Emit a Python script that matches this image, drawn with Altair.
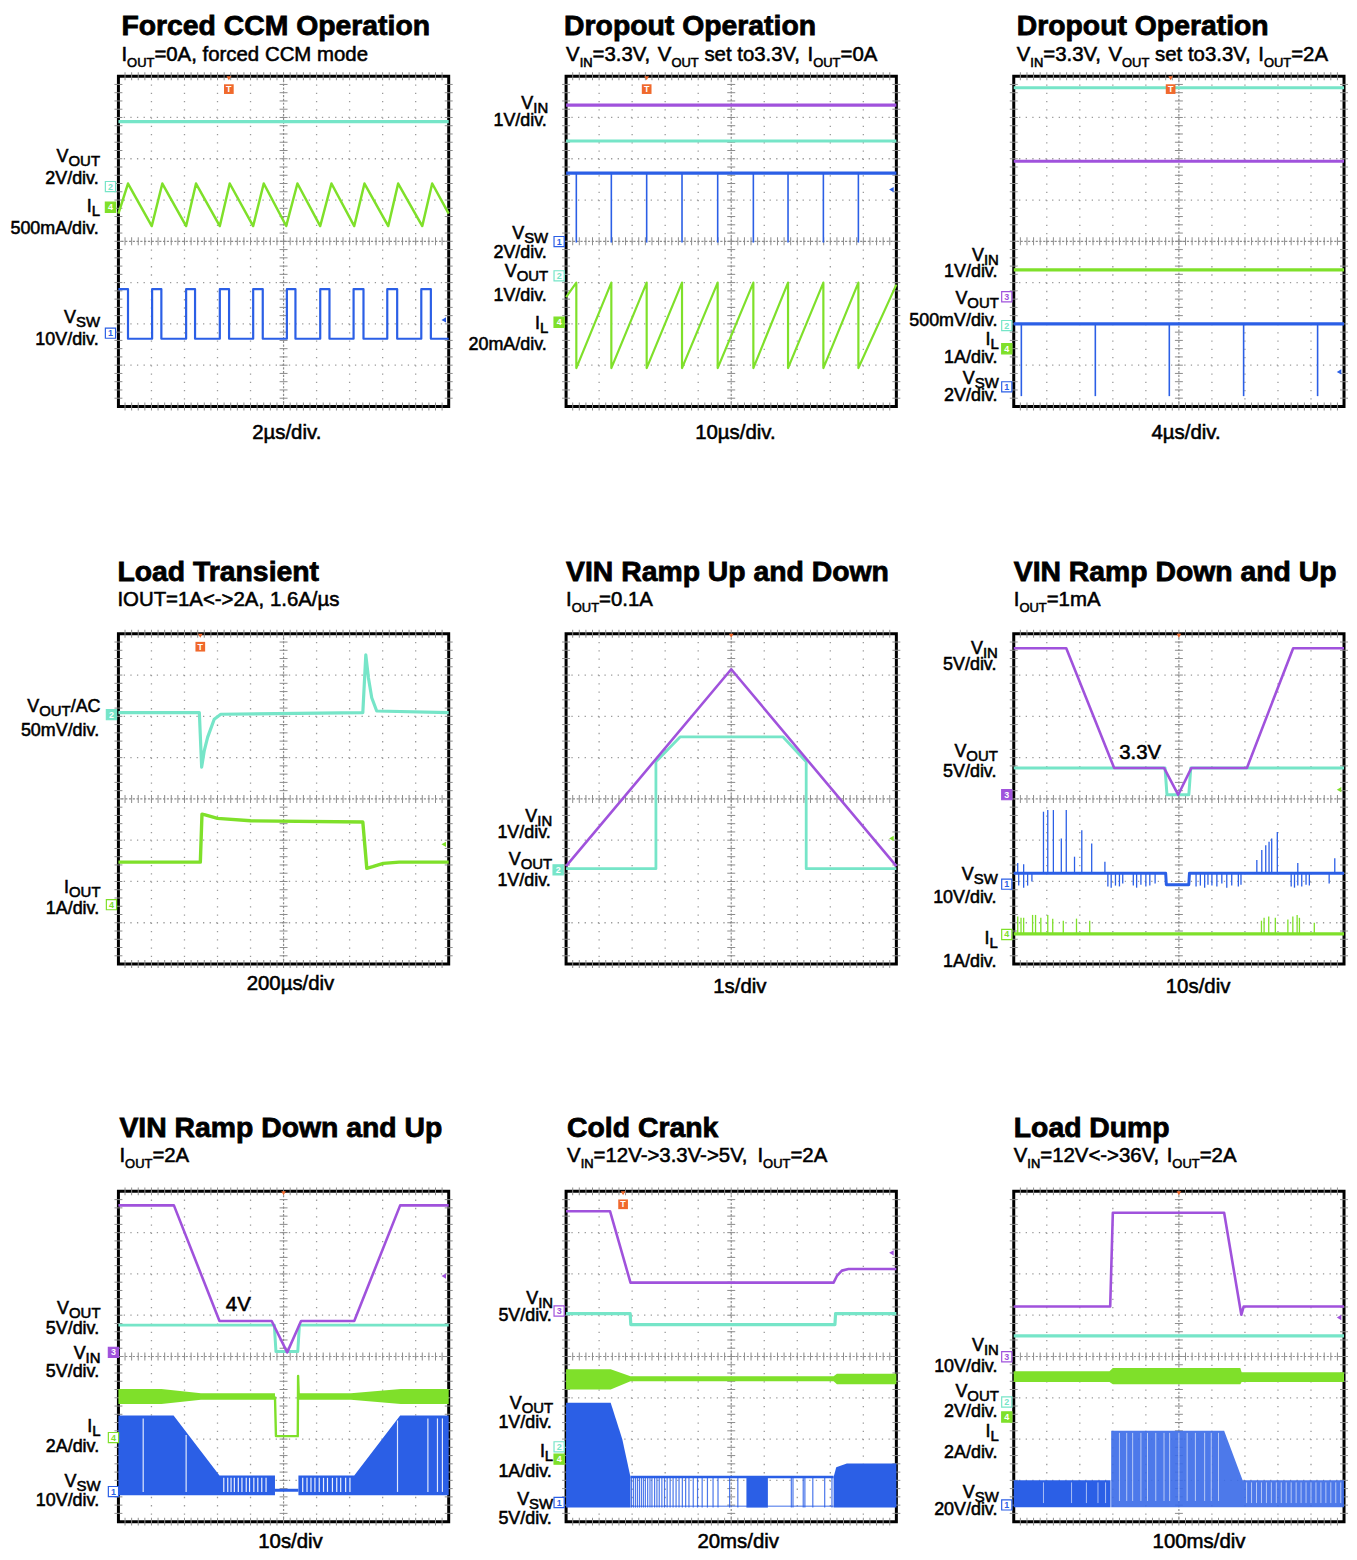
import re
import altair as alt
import pandas as pd

# ---------------------------------------------------------------------------
# Data, in oscilloscope divisions (x: 0..10, y: 0..8)
# ---------------------------------------------------------------------------
# 1 Forced CCM Operation
P1_VOUT_X = [0, 10]
P1_VOUT_Y = [6.9, 6.9]
P1_IL_X = [0, 0.29, 1.01, 1.33, 2.05, 2.35, 3.07, 3.37, 4.08, 4.40, 5.08, 5.42,
           6.11, 6.45, 7.14, 7.45, 8.17, 8.47, 9.20, 9.50, 10]
P1_IL_Y = [4.67, 5.40, 4.37, 5.40, 4.37, 5.40, 4.37, 5.40, 4.37, 5.40, 4.37, 5.40,
           4.37, 5.40, 4.37, 5.40, 4.37, 5.40, 4.37, 5.40, 4.67]
P1_VSW_X = [0, 0.29, 0.29, 1.02, 1.02, 1.30, 1.30, 2.05, 2.05, 2.32, 2.32, 3.07,
            3.07, 3.35, 3.35, 4.08, 4.08, 4.37, 4.37, 5.10, 5.10, 5.36, 5.36, 6.11,
            6.11, 6.39, 6.39, 7.12, 7.12, 7.42, 7.42, 8.14, 8.14, 8.44, 8.44, 9.17,
            9.17, 9.46, 9.46, 10]
P1_VSW_Y = [2.84, 2.84, 1.64, 1.64, 2.84, 2.84, 1.64, 1.64, 2.84, 2.84, 1.64, 1.64,
            2.84, 2.84, 1.64, 1.64, 2.84, 2.84, 1.64, 1.64, 2.84, 2.84, 1.64, 1.64,
            2.84, 2.84, 1.64, 1.64, 2.84, 2.84, 1.64, 1.64, 2.84, 2.84, 1.64, 1.64,
            2.84, 2.84, 1.64, 1.64]

# 2 Dropout Operation, IOUT=0A
P2_VIN_Y = 7.30
P2_VOUT_Y = 6.43
P2_VSW_Y = 5.65
P2_VSW_SPIKE_X = [0.31, 1.37, 2.44, 3.51, 4.59, 5.67, 6.72, 7.79, 8.85]
P2_VSW_SPIKE_LOW = 3.97
P2_IL_X = [0, 0.31, 0.31, 1.37, 1.37, 2.44, 2.44, 3.51, 3.51, 4.59, 4.59, 5.67,
           5.67, 6.72, 6.72, 7.79, 7.79, 8.85, 8.85, 10]
P2_IL_Y = [2.65, 3.0, 0.93, 3.0, 0.93, 3.0, 0.93, 3.0, 0.93, 3.0, 0.93, 3.0,
           0.93, 3.0, 0.93, 3.0, 0.93, 3.0, 0.93, 2.95]

# 3 Dropout Operation, IOUT=2A
P3_VOUT_Y = 7.72
P3_VIN_Y = 5.94
P3_IL_Y = 3.31
P3_VSW_Y = 2.0
P3_VSW_SPIKE_X = [0.23, 2.47, 4.71, 6.96, 9.20]
P3_VSW_SPIKE_LOW = 0.25

# 4 Load Transient
P4_VOUT_X = [0, 2.45, 2.52, 2.60, 2.70, 2.90, 3.10, 7.40, 7.49, 7.57, 7.67, 7.82, 10]
P4_VOUT_Y = [6.09, 6.09, 4.77, 5.17, 5.49, 5.93, 6.05, 6.09, 7.49, 6.93, 6.45, 6.13, 6.09]
P4_IOUT_X = [0, 2.48, 2.53, 2.60, 3.0, 4.0, 7.40, 7.52, 7.70, 8.02, 8.50, 10]
P4_IOUT_Y = [2.47, 2.47, 3.63, 3.62, 3.53, 3.47, 3.44, 2.32, 2.36, 2.44, 2.47, 2.47]

# 5 VIN Ramp Up and Down
P5_VIN_X = [0, 5.0, 10]
P5_VIN_Y = [2.37, 7.14, 2.37]
P5_VOUT_X = [0, 2.72, 2.72, 3.45, 6.57, 7.27, 7.27, 10]
P5_VOUT_Y = [2.31, 2.31, 4.90, 5.50, 5.50, 4.90, 2.31, 2.31]

# 6 VIN Ramp Down and Up, IOUT=1mA
P6_VIN_X = [0, 1.59, 3.04, 4.55, 4.98, 5.38, 7.06, 8.46, 10]
P6_VIN_Y = [7.65, 7.65, 4.75, 4.75, 4.10, 4.75, 4.75, 7.65, 7.65]
P6_VOUT_X = [0, 4.58, 4.64, 5.30, 5.36, 10]
P6_VOUT_Y = [4.75, 4.75, 4.10, 4.10, 4.75, 4.75]
P6_VSW_X = [0, 4.60, 4.62, 5.30, 5.32, 10]
P6_VSW_Y = [2.20, 2.20, 1.92, 1.92, 2.20, 2.20]
P6_SWUP_X = [0.12, 0.30, 0.90, 1.03, 1.20, 1.44, 1.59, 1.84, 2.06, 2.36, 2.76,
             7.36, 7.51, 7.63, 7.73, 7.81, 7.98, 8.60, 9.72]
P6_SWUP_Y = [2.45, 2.42, 3.69, 3.73, 3.73, 3.04, 3.73, 2.60, 3.24, 2.92, 2.48,
             2.52, 2.76, 2.88, 2.96, 3.04, 3.20, 2.45, 2.56]
P6_SWDN_X = [0.15, 0.30, 0.42, 0.55, 2.85, 2.95, 3.08, 3.20, 3.30, 3.62, 3.72,
             3.85, 4.00, 4.12, 4.28, 5.52, 5.65, 5.78, 5.88, 6.00, 6.15, 6.30,
             6.45, 6.60, 6.80, 6.88, 8.40, 8.50, 8.60, 8.72, 8.85, 8.95, 9.55]
P6_SWDN_Y = [1.90, 1.85, 1.90, 2.00, 1.88, 1.85, 1.90, 1.88, 1.95, 1.90, 1.85,
             1.92, 1.88, 1.90, 1.95, 1.88, 1.90, 1.85, 1.92, 1.90, 1.88, 1.95,
             1.85, 1.90, 1.88, 1.92, 1.88, 1.85, 1.90, 1.88, 1.92, 1.90, 1.95]
P6_IL_Y = 0.73
P6_IL_SPIKE_X = [0.12, 0.22, 0.30, 0.57, 0.66, 0.82, 1.03, 1.18, 1.50, 1.90, 2.30,
                 7.50, 7.58, 7.72, 7.92, 8.30, 8.45, 8.58, 8.65, 9.10]
P6_IL_SPIKE_Y = [1.15, 1.12, 1.12, 1.19, 1.19, 1.12, 1.19, 1.10, 1.05, 1.10, 1.05,
                 1.05, 1.12, 1.15, 1.12, 1.08, 1.15, 1.19, 1.12, 1.00]

# 7 VIN Ramp Down and Up, IOUT=2A
P7_VIN_X = [0, 1.68, 3.06, 4.64, 5.11, 5.53, 7.14, 8.53, 10]
P7_VIN_Y = [7.66, 7.66, 4.86, 4.86, 4.10, 4.86, 4.86, 7.66, 7.66]
P7_VOUT_X = [0, 4.72, 4.77, 5.43, 5.48, 10]
P7_VOUT_Y = [4.76, 4.76, 4.12, 4.12, 4.76, 4.76]
P7_IL_BAND1_X = [0, 1.30, 2.50, 4.74]
P7_IL_BAND1_LO = [2.85, 2.85, 2.95, 2.95]
P7_IL_BAND1_HI = [3.21, 3.21, 3.11, 3.11]
P7_IL_DIP_X = [4.74, 4.77, 5.43, 5.44, 5.46]
P7_IL_DIP_Y = [3.03, 2.07, 2.07, 3.53, 3.03]
P7_IL_BAND2_X = [5.46, 7.04, 8.55, 10]
P7_IL_BAND2_LO = [2.95, 2.95, 2.85, 2.85]
P7_IL_BAND2_HI = [3.11, 3.11, 3.21, 3.21]
P7_VSW_A_X = [0, 1.67, 3.06, 4.74]
P7_VSW_A_HI = [2.57, 2.57, 1.12, 1.12]
P7_VSW_B_X = [5.45, 7.14, 8.53, 10]
P7_VSW_B_HI = [1.12, 1.12, 2.57, 2.57]
P7_VSW_LO = 0.64
P7_VSW_MID_X = [4.74, 5.45]
P7_VSW_MID_Y = [0.76, 0.76]
P7_GAP_FULL_X = [0.75, 2.05, 8.45, 9.37, 9.66, 9.81]
P7_GAP_FULL_TOP = [2.50, 2.10, 2.45, 2.50, 2.50, 2.50]
P7_GAP_SPARSE_X = [3.19, 3.31, 3.41, 3.51, 3.63, 3.74, 3.87, 3.97, 4.10, 4.22, 4.34, 4.47,
                   5.58, 5.71, 5.83, 5.95, 6.08, 6.21, 6.33, 6.48, 6.61, 6.73, 6.88, 7.01]

# 8 Cold Crank
P8_VIN_X = [0, 1.33, 1.95, 8.10, 8.20, 8.35, 8.55, 10]
P8_VIN_Y = [7.52, 7.52, 5.79, 5.79, 5.95, 6.08, 6.12, 6.12]
P8_VOUT_X = [0, 1.94, 1.96, 8.14, 8.16, 10]
P8_VOUT_Y = [5.04, 5.04, 4.77, 4.77, 5.04, 5.04]
P8_IL_X = [0, 1.35, 1.95, 8.10, 8.20, 10]
P8_IL_LO = [3.20, 3.20, 3.40, 3.40, 3.33, 3.33]
P8_IL_HI = [3.69, 3.69, 3.52, 3.52, 3.58, 3.58]
P8_VSW_A_X = [0, 1.35, 1.70, 1.95]
P8_VSW_A_HI = [2.88, 2.88, 2.00, 1.08]
P8_VSW_B_X = [8.10, 8.18, 8.50, 10]
P8_VSW_B_HI = [1.08, 1.32, 1.41, 1.41]
P8_VSW_LO = 0.34
P8_VSW_TOP = 1.08
P8_VSW_BLOCK_X = [5.46, 6.11]
P8_VSW_LINES_X = [1.98, 2.04, 2.10, 2.16, 2.22, 2.28, 2.34, 2.40, 2.47, 2.54, 2.60, 2.68,
                  2.75, 2.82, 2.90, 2.98, 3.06, 3.15, 3.24, 3.33, 3.42, 3.52, 3.62, 3.72,
                  3.85, 3.98, 4.12, 4.28, 4.45, 4.60, 4.95, 5.20, 6.82, 6.87, 7.18, 7.23,
                  7.47, 7.83, 8.05]

# 9 Load Dump
P9_VIN_X = [0, 2.92, 3.00, 6.37, 6.89, 6.96, 10]
P9_VIN_Y = [5.21, 5.21, 7.48, 7.48, 5.01, 5.21, 5.21]
P9_VOUT_Y = 4.50
P9_IL_X = [0, 2.90, 3.00, 6.86, 6.90, 10]
P9_IL_LO = [3.38, 3.38, 3.33, 3.33, 3.38, 3.38]
P9_IL_HI = [3.64, 3.64, 3.72, 3.72, 3.62, 3.62]
P9_VSW_A_X = [0, 2.93]
P9_VSW_A_HI = [1.0, 1.0]
P9_VSW_B_X = [2.95, 6.37, 6.93, 10]
P9_VSW_B_HI = [2.20, 2.20, 1.00, 1.00]
P9_VSW_LO = 0.35
P9_GAP_L_X = [0.90, 1.75, 2.20, 2.55, 2.78]
P9_GAP_M_X = [3.20, 3.42, 3.60, 3.85, 4.05, 4.30, 4.55, 4.72, 5.00, 5.25, 5.50, 5.78, 5.98, 6.20]
P9_GAP_R_X = [7.05, 7.20, 7.35, 7.50, 7.65, 7.80, 7.95, 8.10, 8.25, 8.40, 8.55, 8.70,
              8.85, 9.00, 9.15, 9.30, 9.45, 9.60, 9.75, 9.90]

# ---------------------------------------------------------------------------
# Style / layout
# ---------------------------------------------------------------------------
W, H = 332, 332
XPD, YPD = W / 10.0, H / 8.0
FONT = "Liberation Sans"
C_VOUT = "#76e5c8"
C_VIN = "#a052dc"
C_VSW = "#2b5fe6"
C_IL = "#7fe02a"
C_GRID = "#9a9a9a"
C_TRIG = "#f0692c"
COLORS = {"vout": C_VOUT, "vin": C_VIN, "vsw": C_VSW, "il": C_IL}

TITLE_SIZE = 28.5
SUB_MAIN, SUB_SUB, SUB_DY = 20.5, 13, 6
LBL, LBL_SUB, LBL_DY = 18, 15, 4
XLBL = 20.5
NOTE = 20.5

AW = {' ': 278, ',': 278, '-': 333, '.': 278, '/': 278, '0': 556, '1': 556,
      '2': 556, '3': 556, '4': 556, '5': 556, '6': 556, '7': 556, '8': 556, '9': 556,
      '<': 584, '=': 584, '>': 584, 'A': 667, 'B': 667, 'C': 722, 'D': 722, 'E': 667,
      'F': 611, 'G': 778, 'H': 722, 'I': 278, 'J': 500, 'K': 667, 'L': 556, 'M': 833,
      'N': 722, 'O': 778, 'P': 667, 'Q': 778, 'R': 722, 'S': 667, 'T': 611, 'U': 722,
      'V': 667, 'W': 944, 'X': 667, 'Y': 667, 'Z': 611, 'a': 556, 'b': 556, 'c': 500,
      'd': 556, 'e': 556, 'f': 278, 'g': 556, 'h': 556, 'i': 222, 'j': 222, 'k': 500,
      'l': 222, 'm': 833, 'n': 556, 'o': 556, 'p': 556, 'q': 556, 'r': 333, 's': 500,
      't': 278, 'u': 556, 'v': 500, 'w': 722, 'x': 500, 'y': 500, 'z': 500, 'µ': 577}


def tw(s, size):
    return sum(AW.get(c, 556) for c in s) / 1000.0 * size


def to_div(xp, yp):
    return xp / XPD, 8 - yp / YPD


def rich_parts(text):
    return [(p, k % 2 == 1) for k, p in enumerate(re.split(r"_\{([^}]*)\}", text)) if p]


def rich_width(text, size, sub):
    return sum(tw(p, sub if s else size) for p, s in rich_parts(text))


def rich_rows(text, xl, yb, size, sub, dy):
    """Text pieces word by word; yb is the alphabetic baseline (converted to a top edge)."""
    rows, x = [], xl
    for p, s in rich_parts(text):
        sz = sub if s else size
        ytop = yb + (dy if s else 0) - round(0.79 * sz)
        for tok in re.split(r"( )", p):
            if not tok:
                continue
            if tok == " ":
                x += tw(" ", sz)
                continue
            xd, yd = to_div(x, ytop)
            rows.append({"x": xd, "y": yd, "t": tok, "s": sz})
            x += tw(tok, sz)
    return rows


XS = alt.Scale(domain=[0, 10], nice=False, zero=False)
YS = alt.Scale(domain=[0, 8], nice=False, zero=False)


def ex():
    return alt.X("x:Q", scale=XS, axis=None)


def ey():
    return alt.Y("y:Q", scale=YS, axis=None)


def grid_layers():
    L = []
    L.append(alt.Chart(pd.DataFrame({"y": [1, 2, 3, 5, 6, 7]})).mark_rule(
        color=C_GRID, strokeWidth=1.3, strokeDash=[1.3, XPD / 5 - 1.3]).encode(y=ey()))
    L.append(alt.Chart(pd.DataFrame({"x": [1, 2, 3, 4, 6, 7, 8, 9]})).mark_rule(
        color=C_GRID, strokeWidth=1.3, strokeDash=[1.3, YPD / 5 - 1.3]).encode(x=ex()))
    L.append(alt.Chart(pd.DataFrame({"y": [4]})).mark_rule(
        color="#8c8c8c", strokeWidth=1.2, strokeDash=[2.2, 1.6]).encode(y=ey()))
    L.append(alt.Chart(pd.DataFrame({"x": [5]})).mark_rule(
        color="#8c8c8c", strokeWidth=1.2, strokeDash=[2.2, 1.6]).encode(x=ex()))
    tx = [round(0.2 * i, 2) for i in range(1, 50)]
    ty = [round(0.2 * i, 2) for i in range(1, 40)]
    t1 = pd.DataFrame({"x": tx * 3, "y": [4] * 49 + [0] * 49 + [8] * 49})
    L.append(alt.Chart(t1).mark_tick(orient="vertical", size=8, thickness=1,
                                     color="#8c8c8c", opacity=1).encode(x=ex(), y=ey()))
    t2 = pd.DataFrame({"y": ty * 3, "x": [5] * 39 + [0] * 39 + [10] * 39})
    L.append(alt.Chart(t2).mark_tick(orient="horizontal", size=8, thickness=1,
                                     color="#8c8c8c", opacity=1).encode(x=ex(), y=ey()))
    return L


def line(xs, ys, color, w=2.5, op=1.0):
    df = pd.DataFrame({"x": xs, "y": ys, "i": list(range(len(xs)))})
    return alt.Chart(df).mark_line(color=color, strokeWidth=w, opacity=op,
                                   strokeJoin="round").encode(
        x=ex(), y=ey(), order=alt.Order("i:Q"))


def flat(y, color, w=3.2):
    return line([0, 10], [y, y], color, w)


def band(xs, lo, hi, color, op=1.0):
    if not isinstance(lo, list):
        lo = [lo] * len(xs)
    df = pd.DataFrame({"x": xs, "y": lo, "y2": hi})
    return alt.Chart(df).mark_area(color=color, opacity=op).encode(
        x=ex(), y=ey(), y2=alt.Y2("y2:Q"))


def rules(xs, y1, y2, color, w=1.5, op=1.0):
    if not isinstance(y1, list):
        y1 = [y1] * len(xs)
    if not isinstance(y2, list):
        y2 = [y2] * len(xs)
    df = pd.DataFrame({"x": xs, "y": y1, "y2": y2})
    return alt.Chart(df).mark_rule(color=color, strokeWidth=w, opacity=op).encode(
        x=ex(), y=ey(), y2=alt.Y2("y2:Q"))


def text_layer(rows, weight="normal", sw=0.55):
    return alt.Chart(pd.DataFrame(rows)).mark_text(
        align="left", baseline="top", font=FONT, fontWeight=weight,
        color="black", stroke="black", strokeWidth=sw).encode(
        x=ex(), y=ey(), text="t:N", size=alt.Size("s:Q", scale=None))


def marker_layers(markers, mx):
    rows = []
    for yp, digit, key, filled in markers:
        xd, yd = to_div(mx, yp)
        c = COLORS[key]
        rows.append({"x": xd, "y": yd, "d": digit, "c": c,
                     "f": c if filled else "white", "tc": "white" if filled else c})
    df = pd.DataFrame(rows)
    sq = alt.Chart(df).mark_square(size=105, strokeWidth=1.2, opacity=1).encode(
        x=ex(), y=ey(), color=alt.Color("f:N", scale=None),
        stroke=alt.Stroke("c:N", scale=None))
    tx = alt.Chart(df).mark_text(fontSize=9, font=FONT, fontWeight="bold",
                                 align="center", baseline="middle").encode(
        x=ex(), y=ey(), text="d:N", color=alt.Color("tc:N", scale=None))
    return [sq, tx]


def trigger_layers(xp, boxed):
    L = []
    xd, ytip = to_div(xp, 2)
    L.append(alt.Chart(pd.DataFrame({"x": [xd], "y": [ytip]})).mark_point(
        shape="triangle-down", filled=True, size=22, color=C_TRIG, opacity=1).encode(
        x=ex(), y=ey()))
    if boxed:
        xd, yb = to_div(xp, 13)
        df = pd.DataFrame({"x": [xd], "y": [yb], "t": ["T"]})
        L.append(alt.Chart(df).mark_square(size=95, color=C_TRIG, opacity=1).encode(
            x=ex(), y=ey()))
        L.append(alt.Chart(df).mark_text(fontSize=9, font=FONT, fontWeight="bold",
                                         color="white", align="center",
                                         baseline="middle").encode(
            x=ex(), y=ey(), text="t:N"))
    return L


def arrow_layer(yp, key):
    xd, yd = to_div(W - 5, yp)
    return alt.Chart(pd.DataFrame({"x": [xd], "y": [yd]})).mark_point(
        shape="triangle-left", filled=True, size=28, color=COLORS[key], opacity=1).encode(
        x=ex(), y=ey())


def panel(spec, traces):
    L = grid_layers() + traces
    L += marker_layers(spec["markers"], spec["mx"])
    L += trigger_layers(spec["trig"], spec["boxed"])
    L.append(arrow_layer(*spec["arrow"]))
    normal = []
    tx, tyb = spec["sub_pos"]
    normal += rich_rows(spec["subtitle"], tx, tyb, SUB_MAIN, SUB_SUB, SUB_DY)
    for text, yb in spec["labels"]:
        w = rich_width(text, LBL, LBL_SUB)
        normal += rich_rows(text, spec["xr"] - w, yb, LBL, LBL_SUB, LBL_DY)
    cx, yb = spec["xlabel_pos"]
    normal += rich_rows(spec["xlabel"], cx - tw(spec["xlabel"], XLBL) / 2, yb,
                        XLBL, XLBL, 0)
    for text, xl, yb in spec.get("notes", []):
        normal += rich_rows(text, xl, yb, NOTE, NOTE, 0)
    L.append(text_layer(normal))
    ttx, tty = spec["title_pos"]
    xd, yd = to_div(ttx, tty - round(0.79 * TITLE_SIZE))
    L.append(text_layer([{"x": xd, "y": yd, "t": spec["title"], "s": TITLE_SIZE}],
                        weight="bold", sw=0.8))
    return alt.layer(*L).properties(width=W, height=H)


SPECS = [
    dict(title="Forced CCM Operation", title_pos=(3, -41),
         subtitle="I_{OUT}=0A, forced CCM mode", sub_pos=(3, -15), xr=-18.5,
         labels=[("V_{OUT}", 86.7), ("2V/div.", 108), ("I_{L}", 136.7),
                 ("500mA/div.", 158.3), ("V_{SW}", 248.3), ("10V/div.", 270)],
         xlabel="2µs/div.", xlabel_pos=(170, 365), mx=-8,
         markers=[(111, "2", "vout", False), (131.7, "4", "il", True),
                  (258.3, "1", "vsw", False)],
         trig=111, boxed=True, arrow=(245, "vsw")),
    dict(title="Dropout Operation", title_pos=(-2, -41),
         subtitle="V_{IN}=3.3V, V_{OUT} set to3.3V, I_{OUT}=0A", sub_pos=(0, -15),
         xr=-18,
         labels=[("V_{IN}", 33), ("1V/div.", 49.7), ("V_{SW}", 164), ("2V/div.", 182.3),
                 ("V_{OUT}", 202.3), ("1V/div.", 225.7), ("I_{L}", 254),
                 ("20mA/div.", 275.7)],
         xlabel="10µs/div.", xlabel_pos=(171, 365), mx=-7,
         markers=[(166.3, "1", "vsw", False), (200.7, "2", "vout", False),
                  (247.3, "4", "il", True)],
         trig=81, boxed=True, arrow=(114, "vsw")),
    dict(title="Dropout Operation", title_pos=(3, -41),
         subtitle="V_{IN}=3.3V, V_{OUT} set to3.3V, I_{OUT}=2A", sub_pos=(3, -15),
         xr=-15,
         labels=[("V_{IN}", 185.7), ("1V/div.", 201.7), ("V_{OUT}", 229),
                 ("500mV/div.", 250.7), ("I_{L}", 270.7), ("1A/div.", 288.3),
                 ("V_{SW}", 309.7), ("2V/div.", 326.3)],
         xlabel="4µs/div.", xlabel_pos=(174, 365), mx=-7,
         markers=[(221.7, "3", "vin", False), (250.7, "2", "vout", False),
                  (274, "4", "il", True), (312.3, "1", "vsw", False)],
         trig=157.7, boxed=True, arrow=(297.3, "vsw")),
    dict(title="Load Transient", title_pos=(-1, -53),
         subtitle="IOUT=1A<->2A, 1.6A/µs", sub_pos=(-1, -27.5), xr=-18,
         labels=[("V_{OUT}/AC", 79), ("50mV/div.", 103), ("I_{OUT}", 260.7),
                 ("1A/div.", 281.7)],
         xlabel="200µs/div", xlabel_pos=(173, 358), mx=-7,
         markers=[(81.3, "2", "vout", True), (272.3, "4", "il", False)],
         trig=82.3, boxed=True, arrow=(211.7, "il")),
    dict(title="VIN Ramp Up and Down", title_pos=(0, -53),
         subtitle="I_{OUT}=0.1A", sub_pos=(0, -27.5), xr=-14,
         labels=[("V_{IN}", 189), ("1V/div.", 205.7), ("V_{OUT}", 232.3),
                 ("1V/div.", 254)],
         xlabel="1s/div", xlabel_pos=(174.7, 360.7), mx=-8,
         markers=[(237.3, "2", "vout", True)],
         trig=166, boxed=False, arrow=(205.7, "il")),
    dict(title="VIN Ramp Down and Up", title_pos=(0, -53),
         subtitle="I_{OUT}=1mA", sub_pos=(0, -27.5), xr=-16,
         labels=[("V_{IN}", 20), ("5V/div.", 36.3), ("V_{OUT}", 124), ("5V/div.", 144),
                 ("V_{SW}", 247.3), ("10V/div.", 270.7), ("I_{L}", 312.3),
                 ("1A/div.", 335)],
         xlabel="10s/div", xlabel_pos=(185.3, 360.7), mx=-7,
         markers=[(161.7, "3", "vin", True), (251.7, "1", "vsw", False),
                  (302.3, "4", "il", False)],
         notes=[("3.3V", 106, 125.7)],
         trig=166, boxed=False, arrow=(156.7, "il")),
    dict(title="VIN Ramp Down and Up", title_pos=(1, -54.8),
         subtitle="I_{OUT}=2A", sub_pos=(1, -29.8), xr=-18,
         labels=[("V_{OUT}", 123.5), ("5V/div.", 143.5), ("V_{IN}", 168.5),
                 ("5V/div.", 186.8), ("I_{L}", 241.8), ("2A/div.", 261.8),
                 ("V_{SW}", 296.8), ("10V/div.", 316.2)],
         xlabel="10s/div", xlabel_pos=(173, 359), mx=-5,
         markers=[(161.8, "3", "vin", True), (247.5, "4", "il", False),
                  (301.8, "1", "vsw", False)],
         notes=[("4V", 108, 120.2)],
         trig=166, boxed=False, arrow=(85.2, "vin")),
    dict(title="Cold Crank", title_pos=(1, -54.8),
         subtitle="V_{IN}=12V->3.3V->5V, I_{OUT}=2A", sub_pos=(1, -29.8), xr=-13,
         labels=[("V_{IN}", 113.5), ("5V/div.", 130.2), ("V_{OUT}", 218.5),
                 ("1V/div.", 237.5), ("I_{L}", 266.8), ("1A/div.", 287.5),
                 ("V_{SW}", 315.2), ("5V/div.", 334.2)],
         xlabel="20ms/div", xlabel_pos=(173, 359), mx=-7,
         markers=[(120.2, "3", "vin", False), (256.8, "2", "vout", False),
                  (269.2, "4", "il", True), (312.8, "1", "vsw", False)],
         trig=57.3, boxed=True, arrow=(61.8, "vin")),
    dict(title="Load Dump", title_pos=(0, -54.8),
         subtitle="V_{IN}=12V<->36V, I_{OUT}=2A", sub_pos=(0, -29.8), xr=-15,
         labels=[("V_{IN}", 160.2), ("10V/div.", 181.8), ("V_{OUT}", 206.8),
                 ("2V/div.", 226.8), ("I_{L}", 246.8), ("2A/div.", 268.5),
                 ("V_{SW}", 308.5), ("20V/div.", 325.2)],
         xlabel="100ms/div", xlabel_pos=(186.3, 359), mx=-7,
         markers=[(166.2, "3", "vin", False), (211.8, "2", "vout", False),
                  (226.8, "4", "il", True), (315.2, "1", "vsw", False)],
         trig=166, boxed=False, arrow=(126.8, "vin")),
]

TRACES = [
    [flat(P1_VOUT_Y[0], C_VOUT), line(P1_IL_X, P1_IL_Y, C_IL, 2.5),
     line(P1_VSW_X, P1_VSW_Y, C_VSW, 2.2)],
    [flat(P2_VIN_Y, C_VIN), flat(P2_VOUT_Y, C_VOUT), flat(P2_VSW_Y, C_VSW),
     rules(P2_VSW_SPIKE_X, P2_VSW_Y, P2_VSW_SPIKE_LOW, C_VSW, 1.6),
     line(P2_IL_X, P2_IL_Y, C_IL, 2.2)],
    [flat(P3_VOUT_Y, C_VOUT), flat(P3_VIN_Y, C_VIN), flat(P3_IL_Y, C_IL),
     flat(P3_VSW_Y, C_VSW),
     rules(P3_VSW_SPIKE_X, P3_VSW_Y, P3_VSW_SPIKE_LOW, C_VSW, 1.6)],
    [line(P4_VOUT_X, P4_VOUT_Y, C_VOUT, 3.2), line(P4_IOUT_X, P4_IOUT_Y, C_IL, 3.4)],
    [line(P5_VOUT_X, P5_VOUT_Y, C_VOUT, 2.8), line(P5_VIN_X, P5_VIN_Y, C_VIN, 2.6)],
    [line(P6_VOUT_X, P6_VOUT_Y, C_VOUT, 3.0), line(P6_VIN_X, P6_VIN_Y, C_VIN, 2.6),
     rules(P6_SWUP_X, P6_VSW_Y[0], P6_SWUP_Y, C_VSW, 1.3),
     rules(P6_SWDN_X, P6_VSW_Y[0], P6_SWDN_Y, C_VSW, 1.3),
     line(P6_VSW_X, P6_VSW_Y, C_VSW, 3.0),
     rules(P6_IL_SPIKE_X, P6_IL_Y, P6_IL_SPIKE_Y, C_IL, 1.3),
     flat(P6_IL_Y, C_IL, 3.2)],
    [line(P7_VOUT_X, P7_VOUT_Y, C_VOUT, 3.0), line(P7_VIN_X, P7_VIN_Y, C_VIN, 2.6),
     band(P7_IL_BAND1_X, P7_IL_BAND1_LO, P7_IL_BAND1_HI, C_IL),
     line(P7_IL_DIP_X, P7_IL_DIP_Y, C_IL, 2.4),
     band(P7_IL_BAND2_X, P7_IL_BAND2_LO, P7_IL_BAND2_HI, C_IL),
     band(P7_VSW_A_X, P7_VSW_LO, P7_VSW_A_HI, C_VSW),
     band(P7_VSW_B_X, P7_VSW_LO, P7_VSW_B_HI, C_VSW),
     line(P7_VSW_MID_X, P7_VSW_MID_Y, C_VSW, 3.0),
     rules(P7_GAP_FULL_X, 0.72, P7_GAP_FULL_TOP, "white", 1.2, 0.85),
     rules(P7_GAP_SPARSE_X, 0.72, 1.06, "white", 1.2, 0.9)],
    [line(P8_VIN_X, P8_VIN_Y, C_VIN, 2.6), line(P8_VOUT_X, P8_VOUT_Y, C_VOUT, 3.2),
     band(P8_IL_X, P8_IL_LO, P8_IL_HI, C_IL),
     band(P8_VSW_A_X, P8_VSW_LO, P8_VSW_A_HI, C_VSW),
     band(P8_VSW_B_X, P8_VSW_LO, P8_VSW_B_HI, C_VSW),
     band(P8_VSW_BLOCK_X, P8_VSW_LO, [P8_VSW_TOP, P8_VSW_TOP], C_VSW),
     line([1.95, 8.10], [P8_VSW_TOP, P8_VSW_TOP], C_VSW, 2.4),
     line([1.95, 8.10], [P8_VSW_LO + 0.03, P8_VSW_LO + 0.03], C_VSW, 1.5, 0.6),
     rules(P8_VSW_LINES_X, P8_VSW_LO, P8_VSW_TOP, C_VSW, 1.2, 0.85)],
    [line(P9_VIN_X, P9_VIN_Y, C_VIN, 2.6), flat(P9_VOUT_Y, C_VOUT),
     band(P9_IL_X, P9_IL_LO, P9_IL_HI, C_IL),
     band(P9_VSW_A_X, P9_VSW_LO, P9_VSW_A_HI, C_VSW),
     band(P9_VSW_B_X, P9_VSW_LO, P9_VSW_B_HI, "#3a6ae8", 0.9),
     rules(P9_GAP_L_X, 0.45, 0.95, "white", 1.0, 0.6),
     rules(P9_GAP_M_X, 0.5, 2.15, "white", 1.0, 0.6),
     rules(P9_GAP_R_X, 0.45, 0.95, "white", 1.0, 0.6)],
]

panels = [panel(s, t) for s, t in zip(SPECS, TRACES)]
# total size is kept within the 1341px-wide page and without vertical overflow,
# so that the browser never shrinks the drawing
chart = alt.concat(
    *panels, columns=3, spacing={"row": 228.5, "column": 118}, bounds="flush"
).properties(
    padding={"top": -1.5, "left": 0, "right": -1, "bottom": -4}, background="white"
).configure_view(stroke="black", strokeWidth=3, fill="white")

chart.save("out.html", embed_options={"renderer": "svg", "actions": False})
